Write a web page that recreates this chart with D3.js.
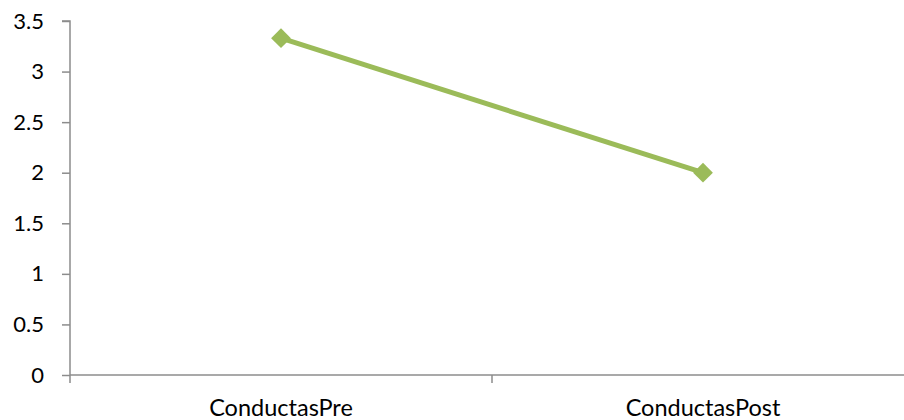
<!DOCTYPE html>
<html>
<head>
<meta charset="utf-8">
<script src="https://cdn.jsdelivr.net/npm/d3@7"></script>
<style>
  html, body { margin: 0; padding: 0; background: #fff; }
  svg { display: block; }
  text { font-family: Lato, "Open Sans", sans-serif; fill: #000; }
</style>
</head>
<body>
<svg id="chart" width="904" height="420"></svg>
<script>
// Behaviour scores before and after
const categories = ["ConductasPre", "ConductasPost"];
const values = [3.33, 2.0];
const yTicks = [0, 0.5, 1, 1.5, 2, 2.5, 3, 3.5];

const svg = d3.select("#chart");
const plot = { left: 70, right: 914, top: 21, bottom: 375 };

const x = d3.scaleBand().domain(categories).range([plot.left, plot.right]).padding(0);
const y = d3.scaleLinear().domain([0, 3.5]).range([plot.bottom, plot.top]);

const axisColor = "#8c8c8c";

// Y axis
const yAxis = svg.append("g")
  .attr("transform", `translate(${plot.left},0)`)
  .call(d3.axisLeft(y).tickValues(yTicks).tickSize(8).tickPadding(18)
    .tickFormat(d => d3.format("")(d)));
yAxis.select(".domain").attr("stroke", axisColor).attr("stroke-width", 1.5)
  .attr("d", `M-8,${plot.top}H0V${plot.bottom + 8}`);
yAxis.selectAll(".tick line").attr("stroke", axisColor).attr("stroke-width", 1.5);
yAxis.selectAll(".tick text").style("font-size", "22px").attr("fill", "#000");

// X axis
const xAxis = svg.append("g")
  .attr("transform", `translate(0,${plot.bottom})`)
  .call(d3.axisBottom(x).tickSize(0));
xAxis.select(".domain").attr("stroke", axisColor).attr("stroke-width", 1.5)
  .attr("d", `M${plot.left},0H${plot.right}`);
xAxis.selectAll(".tick text")
  .style("font-size", "23.5px")
  .attr("fill", "#000")
  .attr("y", 41)
  .attr("dy", 0);
// Boundary ticks between categories
xAxis.selectAll(".sep")
  .data(categories.slice(1))
  .join("line")
  .attr("class", "sep")
  .attr("x1", d => x(d)).attr("x2", d => x(d))
  .attr("y1", 0).attr("y2", 8)
  .attr("stroke", axisColor).attr("stroke-width", 1.5);

// Series line
const pts = categories.map((c, i) => [x(c) + x.bandwidth() / 2, y(values[i])]);
svg.append("path")
  .attr("d", d3.line()(pts))
  .attr("fill", "none")
  .attr("stroke", "#9bbb59")
  .attr("stroke-width", 5)
  .attr("stroke-linejoin", "round");

// Diamond markers
svg.selectAll(".marker")
  .data(pts)
  .join("path")
  .attr("class", "marker")
  .attr("transform", d => `translate(${d[0]},${d[1]}) rotate(45)`)
  .attr("d", "M-7,-7H7V7H-7Z")
  .attr("fill", "#9bbb59");
</script>
</body>
</html>
